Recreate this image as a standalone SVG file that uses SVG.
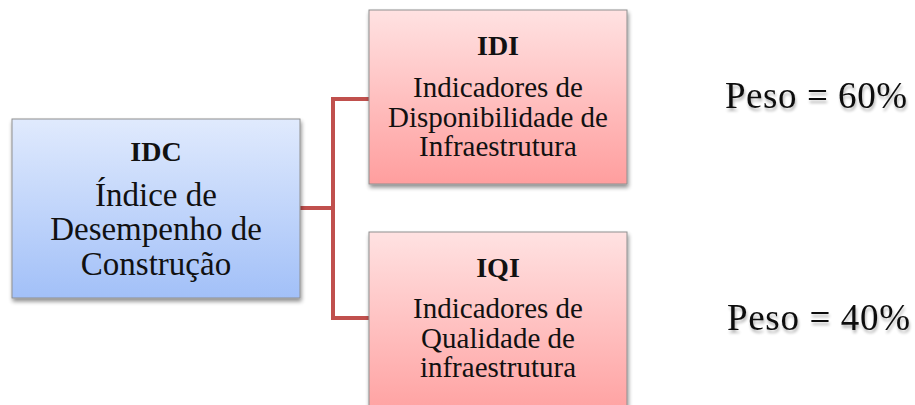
<svg xmlns="http://www.w3.org/2000/svg" width="915" height="405" viewBox="0 0 915 405">
<defs>
<linearGradient id="blue" x1="0" y1="0" x2="0" y2="1">
<stop offset="0" stop-color="#E0EAFD"/>
<stop offset="1" stop-color="#A2C0F8"/>
</linearGradient>
<linearGradient id="red" x1="0" y1="0" x2="0" y2="1">
<stop offset="0" stop-color="#FFE2E2"/>
<stop offset="1" stop-color="#FF9E9E"/>
</linearGradient>
<filter id="sh" x="-10%" y="-10%" width="125%" height="125%">
<feGaussianBlur in="SourceAlpha" stdDeviation="2"/>
<feOffset dx="1" dy="3" result="b"/>
<feComponentTransfer><feFuncA type="linear" slope="0.45"/></feComponentTransfer>
<feMerge><feMergeNode/><feMergeNode in="SourceGraphic"/></feMerge>
</filter>
<filter id="tsh" x="-10%" y="-20%" width="120%" height="160%">
<feGaussianBlur in="SourceAlpha" stdDeviation="1.5"/>
<feOffset dx="1" dy="3"/>
<feComponentTransfer><feFuncA type="linear" slope="0.3"/></feComponentTransfer>
<feMerge><feMergeNode/><feMergeNode in="SourceGraphic"/></feMerge>
</filter>
</defs>
<style>
.box{stroke:#8f8f8f;stroke-width:1;}
text{font-family:"Liberation Serif","Times New Roman",serif;fill:#111;text-anchor:middle;}
.t{font-weight:bold;font-size:28px;}
.b{font-size:33px;}
.s{font-size:29px;}
.p{font-size:37px;text-anchor:start;}
.con{fill:none;stroke:#C0504D;stroke-width:4;}
</style>
<g id="connectors">
<path class="con" d="M300 208 H333 M369 99 H333 V318 H369"/>
</g>
<g id="idc">
<rect class="box" x="12" y="119" width="288" height="179" fill="url(#blue)" filter="url(#sh)"/>
<text class="t" x="156" y="161">IDC</text>
<text class="b" x="156" y="206">Índice de</text>
<text class="b" x="156" y="240">Desempenho de</text>
<text class="b" x="156" y="275">Construção</text>
</g>
<g id="idi">
<rect class="box" x="369" y="10" width="258" height="174" fill="url(#red)" filter="url(#sh)"/>
<text class="t" x="498" y="55">IDI</text>
<text class="s" x="498" y="97">Indicadores de</text>
<text class="s" x="498" y="127">Disponibilidade de</text>
<text class="s" x="498" y="156">Infraestrutura</text>
</g>
<g id="iqi">
<rect class="box" x="369" y="232" width="258" height="190" fill="url(#red)" filter="url(#sh)"/>
<text class="t" x="498" y="277">IQI</text>
<text class="s" x="498" y="318">Indicadores de</text>
<text class="s" x="498" y="348">Qualidade de</text>
<text class="s" x="498" y="377">infraestrutura</text>
</g>
<g id="weights" filter="url(#tsh)">
<text class="p" x="725" y="108" textLength="182">Peso = 60%</text>
<text class="p" x="727" y="330" textLength="183">Peso = 40%</text>
</g>
</svg>
